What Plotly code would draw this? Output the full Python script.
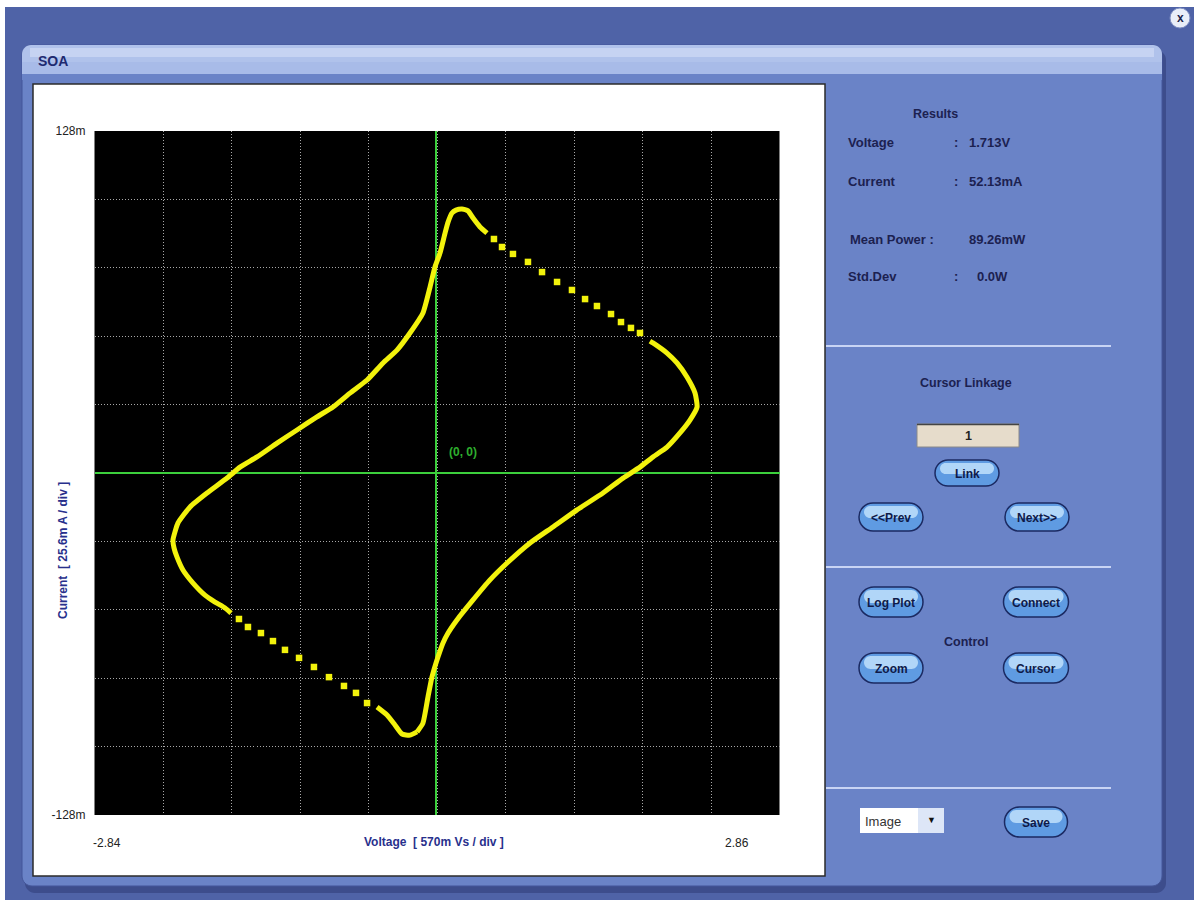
import plotly.graph_objects as go

# ---------------- data (Voltage in V, Current in mA) ----------------
x_range_v = [-2.84, 2.86]
y_range_ma = [-128.0, 128.0]
volts_per_div = 0.57
ma_per_div = 25.6
x_end_labels = ["-2.84", "2.86"]
y_end_labels = ["-128m", "128m"]

# dense (solid-looking) part: bottom notch up the right branch to the right tip
rise_v = [-0.156, -0.107, -0.065, -0.032, 0.018, 0.060, 0.102, 0.176, 0.310, 0.451,
          0.593, 0.784, 0.975, 1.175, 1.391, 1.558, 1.699, 1.807, 1.924, 2.032,
          2.115, 2.174, 2.157, 2.090, 2.007, 1.924, 1.807, 1.782]
rise_ma = [-96.9, -93.6, -83.8, -76.4, -68.9, -63.6, -59.9, -55.0, -47.5, -40.0,
           -33.7, -26.2, -20.2, -13.8, -7.5, -1.9, 2.2, 6.0, 9.7, 15.0,
           19.8, 24.7, 29.9, 35.9, 41.2, 44.9, 48.7, 49.4]

# sparse samples (fast sweep) from right tip to top peak
dots_upper_v = [1.699, 1.624, 1.541, 1.458, 1.341, 1.242, 1.133, 1.009, 0.884, 0.767,
                0.642, 0.551, 0.484]
dots_upper_ma = [52.4, 54.3, 56.5, 59.5, 62.5, 65.1, 68.5, 71.5, 75.2, 79.0,
                 82.0, 84.6, 87.6]

# dense part: top peak down the left branch to the left tip
fall_v = [0.426, 0.368, 0.310, 0.268, 0.218, 0.168, 0.135, 0.102, 0.077, 0.035,
          -0.007, -0.048, -0.107, -0.215, -0.323, -0.439, -0.572, -0.714, -0.855, -0.989,
          -1.155, -1.321, -1.488, -1.629, -1.737, -1.904, -2.045, -2.145, -2.187, -2.178,
          -2.154, -2.104, -2.020, -1.921, -1.837, -1.754, -1.704]
fall_ma = [89.8, 92.1, 95.4, 98.1, 98.8, 98.4, 97.3, 93.9, 89.8, 82.3,
           77.1, 69.6, 59.9, 52.4, 46.0, 41.2, 34.8, 29.9, 24.7, 21.0,
           16.1, 11.2, 6.0, 2.2, -1.9, -7.5, -12.7, -18.7, -25.1, -28.1,
           -31.4, -36.3, -41.2, -45.7, -48.3, -50.5, -52.4]

# sparse samples from left tip to bottom notch
dots_lower_v = [-1.638, -1.563, -1.455, -1.355, -1.255, -1.138, -1.014, -0.889, -0.764,
                -0.664, -0.572]
dots_lower_ma = [-54.6, -57.6, -59.9, -62.9, -66.2, -69.2, -72.6, -76.4, -79.7,
                 -82.3, -86.1]

# dense part: bottom notch
notch_v = [-0.489, -0.406, -0.340, -0.281, -0.215, -0.156]
notch_ma = [-87.6, -90.6, -94.3, -97.7, -98.1, -96.9]

results_labels = ["Voltage", "Current", "Mean Power :", "Std.Dev"]
results_values = ["1.713V", "52.13mA", "89.26mW", "0.0W"]
button_labels = ["Link", "<<Prev", "Next>>", "Log Plot", "Connect", "Zoom", "Cursor", "Save"]

# ---------------- layout helpers ----------------
W, H = 1194, 900
FONT = "Arial, Liberation Sans, sans-serif"
NAVY = "#1c2150"
YEL = "#f2f20c"


def P(x, y):
    return f"{x / W:.5f},{1 - y / H:.5f}"


def rrect(x0, y0, x1, y1, r):
    k = 0.5523 * r
    return (f"M {P(x0 + r, y0)} L {P(x1 - r, y0)} "
            f"C {P(x1 - r + k, y0)} {P(x1, y0 + r - k)} {P(x1, y0 + r)} "
            f"L {P(x1, y1 - r)} "
            f"C {P(x1, y1 - r + k)} {P(x1 - r + k, y1)} {P(x1 - r, y1)} "
            f"L {P(x0 + r, y1)} "
            f"C {P(x0 + r - k, y1)} {P(x0, y1 - r + k)} {P(x0, y1 - r)} "
            f"L {P(x0, y0 + r)} "
            f"C {P(x0, y0 + r - k)} {P(x0 + r - k, y0)} {P(x0 + r, y0)} Z")


shapes = []
annotations = []


def path_shape(path, fill, line=None, lw=0, opacity=1):
    shapes.append(dict(type="path", xref="paper", yref="paper", path=path,
                       fillcolor=fill, opacity=opacity, layer="below",
                       line=dict(color=line or fill, width=lw)))


def rect(x0, y0, x1, y1, fill, line=None, lw=0):
    shapes.append(dict(type="rect", xref="paper", yref="paper", layer="below",
                       x0=x0 / W, x1=x1 / W, y0=1 - y1 / H, y1=1 - y0 / H,
                       fillcolor=fill, line=dict(color=line or fill, width=lw)))


def hline(x0, x1, y, color, lw):
    shapes.append(dict(type="line", xref="paper", yref="paper", layer="below",
                       x0=x0 / W, x1=x1 / W, y0=1 - y / H, y1=1 - y / H,
                       line=dict(color=color, width=lw)))


def txt(x, y, s, size=12.5, color=NAVY, bold=True, xanchor="center", angle=0):
    annotations.append(dict(x=x / W, y=1 - y / H, xref="paper", yref="paper",
                            text=(f"<b>{s}</b>" if bold else s), showarrow=False,
                            xanchor=xanchor, yanchor="middle", textangle=angle,
                            font=dict(family=FONT, size=size, color=color)))


# ---------------- window chrome ----------------
rect(5, 7, 1194, 900, "#4f63a7")
path_shape(rrect(25, 50, 1166, 893, 10), "#3d4d8c")
path_shape(rrect(22, 45, 1162, 886, 10), "#6a83c7", "#45579a", 1)
path_shape(rrect(22, 45, 1162, 80, 9), "#b0c2eb")
rect(22, 62, 1162, 74, "#a8bbe8")
rect(30, 48, 1154, 57, "#c6d3f2")
rect(22, 74, 1162, 80, "#6a83c7")
txt(36, 61, "SOA", size=14, color="#1e2a70", xanchor="left")

# close button
shapes.append(dict(type="circle", xref="paper", yref="paper", layer="below",
                   x0=1170 / W, x1=1190 / W, y0=1 - 28 / H, y1=1 - 8 / H,
                   fillcolor="#e9eef8", line=dict(color="#7f8fc2", width=1)))
txt(1180, 17.5, "x", size=12, color="#1a1f4a")

# white plot panel and black screen
rect(33, 84, 825, 876, "#ffffff", "#2b2b2b", 1.5)
rect(94.5, 131, 779.5, 815, "#000000")

# axis titles / end labels
txt(434, 842, "Voltage  [ 570m Vs / div ]", size=12, color="#28308c")
txt(63, 551, "Current  [ 25.6m A / div ]", size=12, color="#28308c", angle=-90)
txt(107, 843, x_end_labels[0], size=12, color="#222222", bold=False)
txt(737, 843, x_end_labels[1], size=12, color="#222222", bold=False)
txt(463, 452, "(0, 0)", size=12, color="#2eae2e")

# ---------------- right control panel ----------------
txt(935, 114, "Results", size=12.5)
row_y = [142, 181, 239, 277]
for lab, val, yy in zip(results_labels, results_values, row_y):
    if lab.startswith("Mean"):
        txt(848, yy, lab, size=13, xanchor="left")
        txt(967, yy, val, size=13, xanchor="left")
    else:
        txt(846, yy, lab, size=13, xanchor="left")
        txt(952, yy, ":", size=13, xanchor="left")
        txt(975 if val == "0.0W" else 967, yy, val, size=13, xanchor="left")

for yy in (346, 567, 788):
    hline(826, 1111, yy, "#c8d4f4", 2)

txt(966, 383, "Cursor Linkage", size=12.5)
rect(917, 424, 1019, 447, "#e6dccb", "#8a8a8a", 1)
hline(917, 1019, 424.5, "#444444", 1.5)
txt(968, 436, "1", size=12.5, color="#222222")

txt(966, 642, "Control", size=12.5)

btn_geom = [(967, 473, 64, 26), (891, 517, 64, 28), (1037, 517, 64, 28),
            (891, 602, 64, 30), (1036, 602, 65, 30), (891, 668, 64, 30),
            (1036, 668, 65, 30), (1036, 822, 63, 30)]
for lab, (cx, cy, w, h) in zip(button_labels, btn_geom):
    x0, x1, y0, y1 = cx - w / 2, cx + w / 2, cy - h / 2, cy + h / 2
    path_shape(rrect(x0, y0, x1, y1, h / 2), "#5f9be2", "#1b2a62", 1.5)
    path_shape(rrect(x0 + 5, y0 + 3, x1 - 5, cy + 1, (cy + 1 - y0 - 3) / 2), "#bfe0fb",
               opacity=0.85)
    txt(cx, cy + 0.5, lab, size=12, color="#0f1a48")

# Image dropdown
rect(860, 808, 918, 833, "#ffffff")
rect(918, 808, 944, 833, "#dde6f7")
txt(863, 821, "Image", size=13, color="#333333", bold=False, xanchor="left")
txt(931, 820, "▼", size=9, color="#111111", bold=False)

# ---------------- traces ----------------
fig = go.Figure()
line_style = dict(color=YEL, width=5, shape="spline", smoothing=0.5)
for xs, ys in ((rise_v, rise_ma), (fall_v, fall_ma), (notch_v, notch_ma)):
    fig.add_trace(go.Scatter(x=xs, y=ys, mode="lines", line=line_style,
                             hoverinfo="skip", showlegend=False))
for xs, ys in ((dots_upper_v, dots_upper_ma), (dots_lower_v, dots_lower_ma)):
    fig.add_trace(go.Scatter(x=xs, y=ys, mode="markers",
                             marker=dict(symbol="square", size=6.5, color=YEL, line=dict(width=0)),
                             hoverinfo="skip", showlegend=False))

x_grid = [round(x_range_v[0] + k * volts_per_div, 3) for k in range(11)]
y_grid = [round(y_range_ma[0] + k * ma_per_div, 2) for k in range(11)]
y_text = [y_end_labels[0]] + [""] * 9 + [y_end_labels[1]]

fig.update_layout(
    width=W, height=H, autosize=False,
    margin=dict(l=0, r=0, t=0, b=0),
    paper_bgcolor="#ffffff", plot_bgcolor="#000000",
    template="none",
    shapes=shapes, annotations=annotations,
    xaxis=dict(domain=[94.5 / W, 779.5 / W], range=x_range_v, tickmode="array",
               tickvals=x_grid, ticktext=[""] * 11, showgrid=True,
               gridcolor="#a8a8a8", gridwidth=1, griddash="1px,2px",
               zeroline=True, zerolinecolor="#3ccf3c", zerolinewidth=1.5,
               showline=False, ticks="", automargin=False, fixedrange=True),
    yaxis=dict(domain=[1 - 815 / H, 1 - 131 / H], range=y_range_ma, tickmode="array",
               tickvals=y_grid, ticktext=y_text, showgrid=True,
               gridcolor="#a8a8a8", gridwidth=1, griddash="1px,2px",
               zeroline=True, zerolinecolor="#3ccf3c", zerolinewidth=1.5,
               showline=False, ticks="", ticklabelstandoff=8, automargin=False,
               tickfont=dict(family=FONT, size=12, color="#222222"), fixedrange=True),
)

fig.write_html("out.html", config={"displayModeBar": False},
               post_script="document.body.style.margin='0px';document.body.style.padding='0px';")
